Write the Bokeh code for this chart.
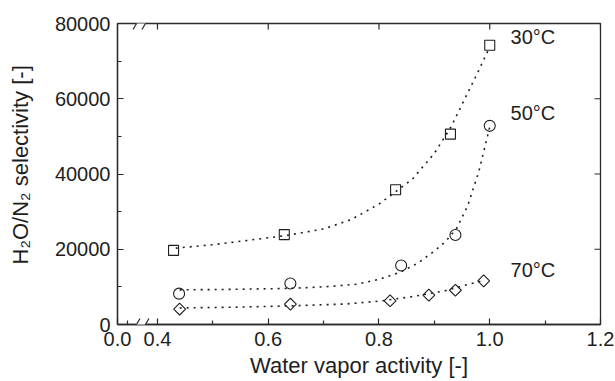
import numpy as np
from bokeh.plotting import figure
from bokeh.models import (Range1d, FixedTicker, Label, BoxAnnotation,
                          Arrow, NumeralTickFormatter)
from bokeh.embed import file_html
from bokeh.resources import INLINE

# ---------------- data ----------------
# x axis is broken between 0.0 and 0.4: the "0.0" label sits at this display position
X_AXIS_START = 0.3278
x_major = [X_AXIS_START, 0.4, 0.6, 0.8, 1.0, 1.2]
x_major_labels = ["0.0", "0.4", "0.6", "0.8", "1.0", "1.2"]
x_minor = [0.3458, 0.5, 0.7, 0.9, 1.1]
y_major = [0, 20000, 40000, 60000, 80000]
y_minor = [10000, 30000, 50000, 70000]

# measured selectivities
act_30 = [0.429, 0.629, 0.830, 0.929, 1.000]
sel_30 = [19700, 23900, 35800, 50600, 74200]
act_50 = [0.439, 0.640, 0.840, 0.938, 1.000]
sel_50 = [8200, 10900, 15700, 23800, 52800]
act_70 = [0.440, 0.640, 0.820, 0.890, 0.938, 0.989]
sel_70 = [4100, 5400, 6300, 7800, 9100, 11600]

# fitted curves
fit30_x = [0.433, 0.50, 0.56, 0.63, 0.70, 0.75, 0.80, 0.83, 0.86, 0.90, 0.93, 0.955, 0.98, 1.0]
fit30_y = [20300, 21200, 22300, 23600, 25400, 27900, 32000, 35300, 38600, 45500, 52500, 60000, 67500, 73800]
fit50_x = [0.44, 0.54, 0.64, 0.70, 0.76, 0.80, 0.84, 0.87, 0.90, 0.92, 0.94, 0.96, 0.98, 1.0]
fit50_y = [9200, 9350, 9600, 10000, 10700, 12000, 14000, 16300, 19500, 22000, 25500, 31500, 40500, 52500]
fit70_x = [0.44, 0.54, 0.64, 0.74, 0.80, 0.86, 0.92, 0.965, 0.99]
fit70_y = [4400, 4600, 4950, 5450, 6200, 7400, 9000, 10800, 11800]

series_labels = ["30°C", "50°C", "70°C"]

# ---------------- styling ----------------
FONT = "Liberation Sans"
INK = "#1e1e1e"
AX = "#2a2a2a"
FW, FH = 483, 301
X0, X1 = X_AXIS_START, 1.2
Y0, Y1 = 0, 80000

p = figure(frame_width=FW, frame_height=FH, output_backend="svg", toolbar_location=None,
           x_range=Range1d(X0, X1), y_range=Range1d(Y0, Y1),
           min_border_left=117, min_border_right=14, min_border_top=23, min_border_bottom=50)
p.outline_line_color = AX
p.outline_line_width = 1.3
p.grid.visible = False
p.background_fill_color = "white"

for ax in (p.xaxis[0], p.yaxis[0]):
    ax.axis_line_color = AX
    ax.axis_line_width = 1.3
    ax.major_tick_line_color = AX
    ax.minor_tick_line_color = AX
    ax.major_tick_line_width = 1.2
    ax.minor_tick_line_width = 1.2
    ax.major_tick_in = 6
    ax.major_tick_out = 0
    ax.minor_tick_in = 4
    ax.minor_tick_out = 0
    ax.major_label_text_font = FONT
    ax.major_label_text_color = INK
    ax.major_label_text_font_size = "20px"
    ax.axis_label_text_font = FONT
    ax.axis_label_text_font_size = "22px"
    ax.axis_label_text_font_style = "normal"
    ax.axis_label_text_color = INK

xa = p.xaxis[0]
xa.ticker = FixedTicker(ticks=x_major, minor_ticks=x_minor)
xa.major_label_overrides = {t: s for t, s in zip(x_major, x_major_labels)}
xa.major_label_standoff = 7
xa.axis_label = "Water vapor activity [-]"
xa.axis_label_standoff = 4

ya = p.yaxis[0]
ya.ticker = FixedTicker(ticks=y_major, minor_ticks=y_minor)
ya.formatter = NumeralTickFormatter(format="0")
ya.major_label_standoff = 7
# leading no-break spaces shift the centred title upward, as in the reference
ya.axis_label = "\u00a0" * 3 + "H₂O/N₂ selectivity [-]"
ya.axis_label_standoff = 19

# mirrored inward ticks on the top and right frame edges
px_x = (X1 - X0) / FW
px_y = (Y1 - Y0) / FH
top_ticks = x_major[1:]
p.segment(x0=top_ticks, y0=[Y1] * len(top_ticks), x1=top_ticks,
          y1=[Y1 - 6 * px_y] * len(top_ticks), line_color=AX, line_width=1.2)
p.segment(x0=[X1] * len(y_major), y0=y_major, x1=[X1 - 6 * px_x] * len(y_major),
          y1=y_major, line_color=AX, line_width=1.2)

# ---------------- fits and markers ----------------
for fx, fy in [(fit30_x, fit30_y), (fit50_x, fit50_y), (fit70_x, fit70_y)]:
    p.line(fx, fy, line_color=INK, line_width=1.6, line_dash="2 5")

p.scatter(act_30, sel_30, marker="square", size=10, fill_color=None,
          line_color=INK, line_width=1.1)
p.scatter(act_50, sel_50, marker="circle", size=11, fill_color=None,
          line_color=INK, line_width=1.1)
p.scatter(act_70, sel_70, marker="square", angle=np.pi / 4, size=8.4, fill_color=None,
          line_color=INK, line_width=1.1)

# ---------------- series labels ----------------
label_pos = [(1.0375, 76500), (1.0375, 56100), (1.0375, 14550)]
for (lx, ly), txt in zip(label_pos, series_labels):
    p.add_layout(Label(x=lx, y=ly, text=txt, text_font=FONT, text_font_size="20px",
                       text_color=INK, text_align="left", text_baseline="alphabetic"))

# ---------------- axis break marks ----------------
gap_l, gap_r = 0.3621, 0.3783
for yb, yt in [(Y0 - 5 * px_y, Y0 + 5 * px_y), (Y1 - 5 * px_y, Y1 + 5 * px_y)]:
    p.add_layout(BoxAnnotation(left=gap_l, right=gap_r, bottom=yb, top=yt,
                               fill_color="white", fill_alpha=1.0, line_color=None,
                               level="overlay"))
dx, dy = 3.5 * px_x, 6 * px_y
for yc in [Y0, Y1]:
    for xc in [gap_l, gap_r]:
        p.add_layout(Arrow(end=None, x_start=xc - dx, y_start=yc - dy, x_end=xc + dx,
                           y_end=yc + dy, line_color=AX, line_width=1.2, level="overlay"))

open("out.html", "w").write(file_html(p, INLINE))
